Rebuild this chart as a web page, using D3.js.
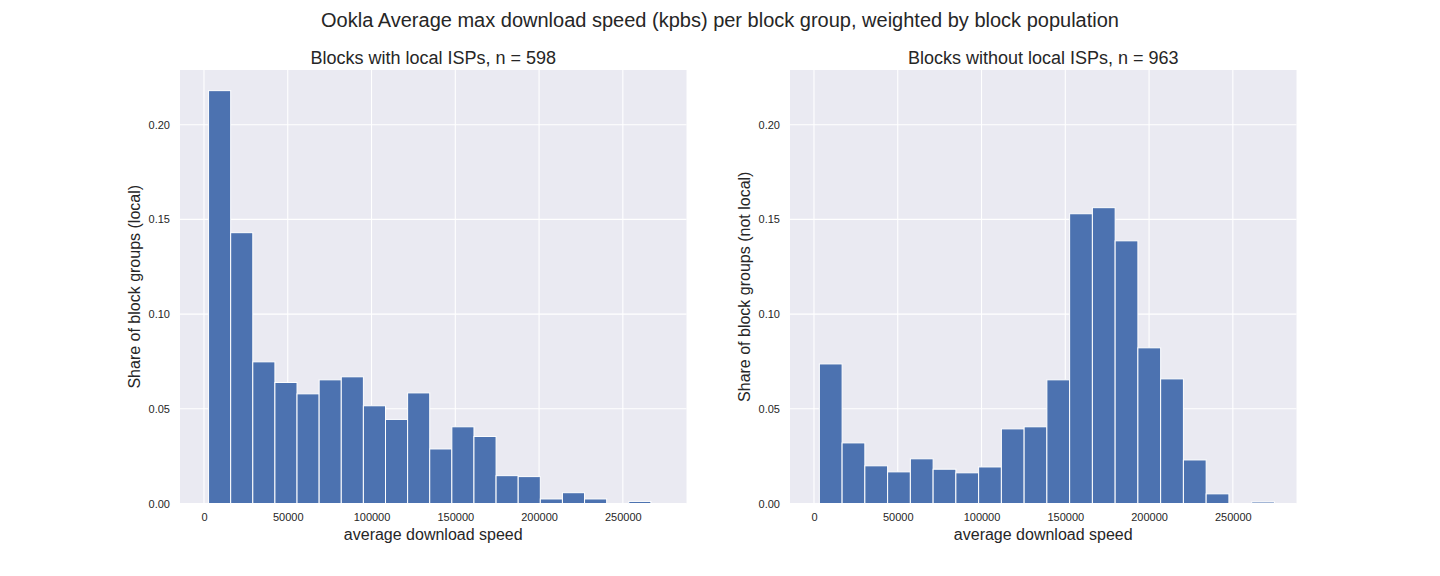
<!DOCTYPE html>
<html>
<head>
<meta charset="utf-8">
<script src="https://cdn.jsdelivr.net/npm/d3@7"></script>
<style>
  html, body { margin: 0; padding: 0; background: #ffffff; }
  svg { display: block; }
  text { font-family: "Liberation Sans", Arial, sans-serif; fill: #262626; }
</style>
</head>
<body>
<script>
// ---- data ----
const suptitle = "Ookla Average max download speed (kpbs) per block group, weighted by block population";
const panelTitles = ["Blocks with local ISPs, n = 598", "Blocks without local ISPs, n = 963"];
const yLabels = ["Share of block groups (local)", "Share of block groups (not local)"];
const xLabel = "average download speed";

// histogram bin start & width (kbps) for each panel
const localBinStart = 2750, localBinWidth = 13200;
const notLocalBinStart = 3220, notLocalBinWidth = 13580;

// share of block groups in each of 20 bins
const localShares = [0.2180, 0.1430, 0.0748, 0.0639, 0.0579, 0.0653, 0.0669, 0.0516, 0.0444, 0.0584,
                     0.0288, 0.0405, 0.0354, 0.0147, 0.0142, 0.0024, 0.0057, 0.0024, 0.0000, 0.0011];
const notLocalShares = [0.0737, 0.0320, 0.0199, 0.0167, 0.0236, 0.0181, 0.0162, 0.0193, 0.0394, 0.0405,
                        0.0653, 0.1530, 0.1562, 0.1387, 0.0822, 0.0658, 0.0230, 0.0051, 0.0000, 0.0008];

const xTicks = [0, 50000, 100000, 150000, 200000, 250000];
const yTicks = [0.00, 0.05, 0.10, 0.15, 0.20];
const xDomain = [-14300, 288000];
const yDomain = [0, 0.2289];

// ---- layout ----
const W = 1440, H = 576;
const panelLeft = [180, 790], panelW = 506.5;
const plotTop = 70, plotBottom = 503.5;

const svg = d3.select("body").append("svg").attr("width", W).attr("height", H);

svg.append("text").attr("x", 720).attr("y", 27).attr("text-anchor", "middle")
  .style("font-size", "20px").text(suptitle);

const panels = [
  {shares: localShares, start: localBinStart, width: localBinWidth},
  {shares: notLocalShares, start: notLocalBinStart, width: notLocalBinWidth}
];

panels.forEach((p, k) => {
  const x = d3.scaleLinear().domain(xDomain).range([panelLeft[k], panelLeft[k] + panelW]);
  const y = d3.scaleLinear().domain(yDomain).range([plotBottom, plotTop]);
  const g = svg.append("g");

  g.append("rect").attr("x", x.range()[0]).attr("y", plotTop)
    .attr("width", panelW).attr("height", plotBottom - plotTop).attr("fill", "#EAEAF2");

  // gridlines
  g.selectAll(".vg").data(xTicks).enter().append("line")
    .attr("x1", d => x(d)).attr("x2", d => x(d)).attr("y1", plotTop).attr("y2", plotBottom)
    .attr("stroke", "#ffffff").attr("stroke-width", 1.1);
  g.selectAll(".hg").data(yTicks).enter().append("line")
    .attr("x1", x.range()[0]).attr("x2", x.range()[1]).attr("y1", d => y(d)).attr("y2", d => y(d))
    .attr("stroke", "#ffffff").attr("stroke-width", 1.1);

  // bars
  const bins = p.shares.map((v, i) => ({x0: p.start + i * p.width, x1: p.start + (i + 1) * p.width, v}));
  g.selectAll(".bar").data(bins.filter(b => b.v > 0)).enter().append("rect")
    .attr("x", d => x(d.x0)).attr("width", d => x(d.x1) - x(d.x0))
    .attr("y", d => y(d.v)).attr("height", d => y(0) - y(d.v))
    .attr("fill", "#4C72B0").attr("stroke", "#ffffff").attr("stroke-width", 1);

  // axes
  const xa = g.append("g").attr("transform", `translate(0,${plotBottom})`)
    .call(d3.axisBottom(x).tickValues(xTicks).tickFormat(d3.format("d")).tickSize(0).tickPadding(10));
  const ya = g.append("g").attr("transform", `translate(${x.range()[0]},0)`)
    .call(d3.axisLeft(y).tickValues(yTicks).tickFormat(d3.format(".2f")).tickSize(0).tickPadding(10));
  [xa, ya].forEach(a => {
    a.select(".domain").remove();
    a.selectAll("text").style("font-size", "11px").style("font-family", "'Liberation Sans', Arial, sans-serif").attr("fill", "#262626");
  });

  const cx = x.range()[0] + panelW / 2;
  g.append("text").attr("x", cx).attr("y", 64).attr("text-anchor", "middle")
    .style("font-size", "18px").text(panelTitles[k]);
  g.append("text").attr("x", cx).attr("y", 540).attr("text-anchor", "middle")
    .style("font-size", "16px").text(xLabel);
  g.append("text").attr("transform", `translate(${x.range()[0] - 40},${(plotTop + plotBottom) / 2}) rotate(-90)`)
    .attr("text-anchor", "middle").style("font-size", "16px").text(yLabels[k]);
});
</script>
</body>
</html>
